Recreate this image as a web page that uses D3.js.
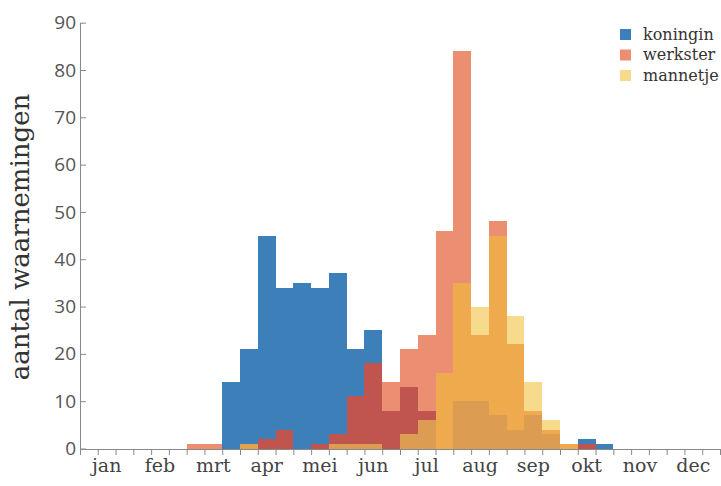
<!DOCTYPE html>
<html>
<head>
<meta charset="utf-8">
<script src="https://cdn.jsdelivr.net/npm/d3@7"></script>
<style>
  html, body { margin: 0; padding: 0; background: #fff; }
  svg { display: block; }
</style>
</head>
<body>
<svg id="chart" width="721" height="486"></svg>
<script>
// ---- data (36 bins: three per month) ----
const months = ["jan","feb","mrt","apr","mei","jun","jul","aug","sep","okt","nov","dec"];
const koningin = [0,0,0,0,0,0, 0,0,14,21,45,34, 35,34,37,21,25,8, 13,8,0,10,10,7, 4,7,3,0,2,1, 0,0,0,0,0,0];
const werkster = [0,0,0,0,0,0, 1,1,0,0,2,4, 0,1,3,11,18,14, 21,24,46,84,24,48, 22,8,4,1,1,0, 0,0,0,0,0,0];
const mannetje = [0,0,0,0,0,0, 0,0,0,1,0,0, 0,0,1,1,1,0, 3,6,16,35,30,45, 28,14,6,1,0,0, 0,0,0,0,0,0];
const yTicks = [0,10,20,30,40,50,60,70,80,90];
const seriesNames = ["koningin","werkster","mannetje"];

const palette = {
  K: "#3c7fb9", W: "#ec8e72", M: "#f8da8d",
  KW: "#c0544f", WM: "#eeaa4c", KM: "#e3a24c", KWM: "#dc9d52"
};

const svg = d3.select("#chart");
const x = d3.scaleLinear().domain([0, 36]).range([80, 720]);
const y = d3.scaleLinear().domain([0, 90]).range([448.5, 22.7]);

// build overlap segments
const segments = [];
koningin.forEach((k, i) => {
  const v = {K: k, W: werkster[i], M: mannetje[i]};
  const levels = Array.from(new Set([0, k, werkster[i], mannetje[i]])).sort((a, b) => a - b);
  for (let j = 1; j < levels.length; j++) {
    const lo = levels[j - 1], hi = levels[j];
    const key = ["K","W","M"].filter(s => v[s] >= hi).join("");
    segments.push({bin: i, lo, hi, key});
  }
});

svg.append("g")
  .selectAll("rect")
  .data(segments)
  .join("rect")
  .attr("x", d => x(d.bin))
  .attr("width", x(1) - x(0))
  .attr("y", d => y(d.hi))
  .attr("height", d => y(d.lo) - y(d.hi))
  .attr("fill", d => palette[d.key])
  .attr("shape-rendering", "crispEdges");

// y axis
const yAxis = svg.append("g")
  .attr("transform", "translate(80,0)")
  .call(d3.axisLeft(y).tickValues(yTicks).tickSizeInner(-6).tickSizeOuter(0).tickPadding(4));
yAxis.selectAll("text")
  .attr("font-family", "'Open Sans', sans-serif")
  .attr("font-size", 19)
  .attr("fill", "#555");
yAxis.selectAll("line, path").attr("stroke", "#888");

// x axis
const xAxis = svg.append("g")
  .attr("transform", "translate(0,449)")
  .call(d3.axisBottom(x).tickValues(d3.range(0, 37)).tickFormat("").tickSizeInner(6).tickSizeOuter(0));
xAxis.selectAll("line, path").attr("stroke", "#888");

// month labels
svg.append("g")
  .selectAll("text")
  .data(months)
  .join("text")
  .attr("x", (d, i) => x(i * 3 + 1.5))
  .attr("y", 472)
  .attr("text-anchor", "middle")
  .attr("font-family", "'DejaVu Serif', serif")
  .attr("font-size", 19)
  .attr("fill", "#444")
  .text(d => d);

// y title
svg.append("text")
  .attr("transform", "translate(28.5,237) rotate(-90)")
  .attr("text-anchor", "middle")
  .attr("font-family", "'DejaVu Serif', serif")
  .attr("font-size", 26)
  .attr("fill", "#333")
  .text("aantal waarnemingen");

// legend
const legendColors = [palette.K, palette.W, palette.M];
const lg = svg.append("g")
  .selectAll("g")
  .data(seriesNames)
  .join("g")
  .attr("transform", (d, i) => `translate(620,${29 + i * 20.5})`);
lg.append("rect").attr("width", 11).attr("height", 11).attr("fill", (d, i) => legendColors[i]);
lg.append("text")
  .attr("x", 23).attr("y", 10.5)
  .attr("font-family", "'DejaVu Serif', serif")
  .attr("font-size", 16)
  .attr("fill", "#333")
  .text(d => d);
</script>
</body>
</html>
